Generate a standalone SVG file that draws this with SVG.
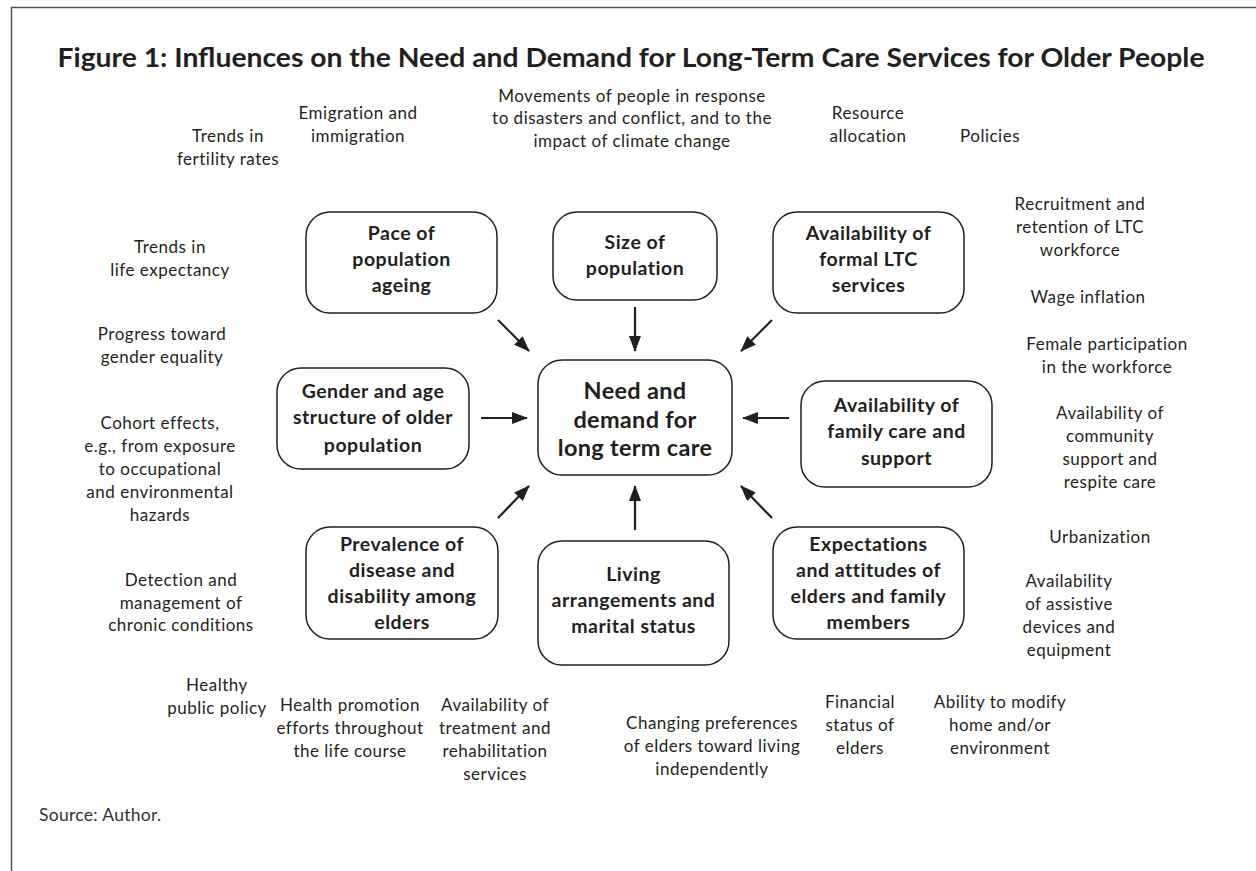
<svg xmlns="http://www.w3.org/2000/svg" width="1256" height="871" viewBox="0 0 1256 871">
<style>
.lbl{font-family:Lato,"Open Sans","Liberation Sans",sans-serif;font-size:17px;letter-spacing:0.5px;fill:#231f20;text-anchor:middle}
.bx{fill:#fff;stroke:#231f20;stroke-width:1.5}
.bt{font-family:Lato,"Open Sans","Liberation Sans",sans-serif;font-size:19.5px;letter-spacing:0.5px;font-weight:bold;fill:#231f20;text-anchor:middle}
.ct{font-family:Lato,"Open Sans","Liberation Sans",sans-serif;font-size:23.5px;letter-spacing:0.3px;font-weight:bold;fill:#231f20;text-anchor:middle}
.ar{stroke:#231f20;stroke-width:2.2;fill:none;marker-end:url(#ah)}
</style>
<defs>
<marker id="ah" markerUnits="userSpaceOnUse" markerWidth="16" markerHeight="12" refX="15" refY="6" orient="auto">
<path d="M0,0 L16,6 L0,12 z" fill="#231f20"/>
</marker>
</defs>
<rect width="1256" height="871" fill="#fff"/>
<path d="M11.5,871 V7.5 H1256" fill="none" stroke="#555" stroke-width="1.5"/>
<text x="631" y="67" font-family="Lato,'Open Sans','Liberation Sans',sans-serif" font-size="27" font-weight="bold" fill="#231f20" text-anchor="middle" textLength="1147" lengthAdjust="spacingAndGlyphs">Figure 1: Influences on the Need and Demand for Long-Term Care Services for Older People</text>

<g id="labels">
<text class="lbl"><tspan x="228" y="142">Trends in</tspan><tspan x="228" y="165">fertility rates</tspan></text>
<text class="lbl"><tspan x="358" y="119">Emigration and</tspan><tspan x="358" y="142">immigration</tspan></text>
<text class="lbl"><tspan x="632" y="102">Movements of people in response</tspan><tspan x="632" y="124">to disasters and conflict, and to the</tspan><tspan x="632" y="147">impact of climate change</tspan></text>
<text class="lbl"><tspan x="868" y="119">Resource</tspan><tspan x="868" y="142">allocation</tspan></text>
<text class="lbl"><tspan x="990" y="142">Policies</tspan></text>
<text class="lbl"><tspan x="1080" y="210">Recruitment and</tspan><tspan x="1080" y="233">retention of LTC</tspan><tspan x="1080" y="256">workforce</tspan></text>
<text class="lbl"><tspan x="1088" y="303">Wage inflation</tspan></text>
<text class="lbl"><tspan x="1107" y="350">Female participation</tspan><tspan x="1107" y="373">in the workforce</tspan></text>
<text class="lbl"><tspan x="1110" y="419">Availability of</tspan><tspan x="1110" y="442">community</tspan><tspan x="1110" y="465">support and</tspan><tspan x="1110" y="488">respite care</tspan></text>
<text class="lbl"><tspan x="1100" y="543">Urbanization</tspan></text>
<text class="lbl"><tspan x="1069" y="587">Availability</tspan><tspan x="1069" y="610">of assistive</tspan><tspan x="1069" y="633">devices and</tspan><tspan x="1069" y="656">equipment</tspan></text>
<text class="lbl"><tspan x="170" y="253">Trends in</tspan><tspan x="170" y="276">life expectancy</tspan></text>
<text class="lbl"><tspan x="162" y="340">Progress toward</tspan><tspan x="162" y="363">gender equality</tspan></text>
<text class="lbl"><tspan x="160" y="429">Cohort effects,</tspan><tspan x="160" y="452">e.g., from exposure</tspan><tspan x="160" y="475">to occupational</tspan><tspan x="160" y="498">and environmental</tspan><tspan x="160" y="521">hazards</tspan></text>
<text class="lbl"><tspan x="181" y="586">Detection and</tspan><tspan x="181" y="609">management of</tspan><tspan x="181" y="631">chronic conditions</tspan></text>
<text class="lbl"><tspan x="217" y="691">Healthy</tspan><tspan x="217" y="714">public policy</tspan></text>
<text class="lbl"><tspan x="350" y="711">Health promotion</tspan><tspan x="350" y="734">efforts throughout</tspan><tspan x="350" y="757">the life course</tspan></text>
<text class="lbl"><tspan x="495" y="711">Availability of</tspan><tspan x="495" y="734">treatment and</tspan><tspan x="495" y="757">rehabilitation</tspan><tspan x="495" y="780">services</tspan></text>
<text class="lbl"><tspan x="712" y="729">Changing preferences</tspan><tspan x="712" y="752">of elders toward living</tspan><tspan x="712" y="775">independently</tspan></text>
<text class="lbl"><tspan x="860" y="708">Financial</tspan><tspan x="860" y="731">status of</tspan><tspan x="860" y="754">elders</tspan></text>
<text class="lbl"><tspan x="1000" y="708">Ability to modify</tspan><tspan x="1000" y="731">home and/or</tspan><tspan x="1000" y="754">environment</tspan></text>
<text x="39" y="821" font-family="Lato,'Open Sans','Liberation Sans',sans-serif" font-size="17.5" letter-spacing="0.3" fill="#333">Source: Author.</text>
</g>

<g id="connectors">
<line class="ar" x1="498" y1="320" x2="529" y2="351"/>
<line class="ar" x1="635" y1="307" x2="635" y2="351"/>
<line class="ar" x1="772" y1="320" x2="741" y2="351"/>
<line class="ar" x1="481" y1="418" x2="527" y2="418"/>
<line class="ar" x1="789" y1="418" x2="743" y2="418"/>
<line class="ar" x1="498" y1="518" x2="529" y2="486"/>
<line class="ar" x1="635" y1="530" x2="635" y2="486"/>
<line class="ar" x1="772" y1="518" x2="741" y2="486"/>
</g>

<g id="n-pace"><rect class="bx" x="306" y="212" width="191" height="101" rx="24"/>
<text class="bt"><tspan x="401.5" y="240">Pace of</tspan><tspan x="401.5" y="266">population</tspan><tspan x="401.5" y="292">ageing</tspan></text></g>
<g id="n-size"><rect class="bx" x="553" y="212" width="164" height="88" rx="24"/>
<text class="bt"><tspan x="635" y="249">Size of</tspan><tspan x="635" y="275">population</tspan></text></g>
<g id="n-formal"><rect class="bx" x="773" y="212" width="191" height="101" rx="24"/>
<text class="bt"><tspan x="868.5" y="240">Availability of</tspan><tspan x="868.5" y="266">formal LTC</tspan><tspan x="868.5" y="292">services</tspan></text></g>
<g id="n-gender"><rect class="bx" x="277" y="368" width="192" height="101" rx="24"/>
<text class="bt"><tspan x="373" y="398">Gender and age</tspan><tspan x="373" y="424">structure of older</tspan><tspan x="373" y="452">population</tspan></text></g>
<g id="n-center"><rect class="bx" x="538" y="360" width="194" height="115" rx="24"/>
<text class="ct"><tspan x="635" y="399">Need and</tspan><tspan x="635" y="428">demand for</tspan><tspan x="635" y="456">long term care</tspan></text></g>
<g id="n-family"><rect class="bx" x="801" y="381" width="191" height="106" rx="24"/>
<text class="bt"><tspan x="896.5" y="412">Availability of</tspan><tspan x="896.5" y="438">family care and</tspan><tspan x="896.5" y="465">support</tspan></text></g>
<g id="n-prev"><rect class="bx" x="306" y="527" width="192" height="112" rx="24"/>
<text class="bt"><tspan x="402" y="551">Prevalence of</tspan><tspan x="402" y="577">disease and</tspan><tspan x="402" y="603">disability among</tspan><tspan x="402" y="629">elders</tspan></text></g>
<g id="n-living"><rect class="bx" x="538" y="541" width="191" height="124" rx="24"/>
<text class="bt"><tspan x="633.5" y="581">Living</tspan><tspan x="633.5" y="607">arrangements and</tspan><tspan x="633.5" y="633">marital status</tspan></text></g>
<g id="n-expect"><rect class="bx" x="773" y="527" width="191" height="112" rx="24"/>
<text class="bt"><tspan x="868.5" y="551">Expectations</tspan><tspan x="868.5" y="577">and attitudes of</tspan><tspan x="868.5" y="603">elders and family</tspan><tspan x="868.5" y="629">members</tspan></text></g>
</svg>
